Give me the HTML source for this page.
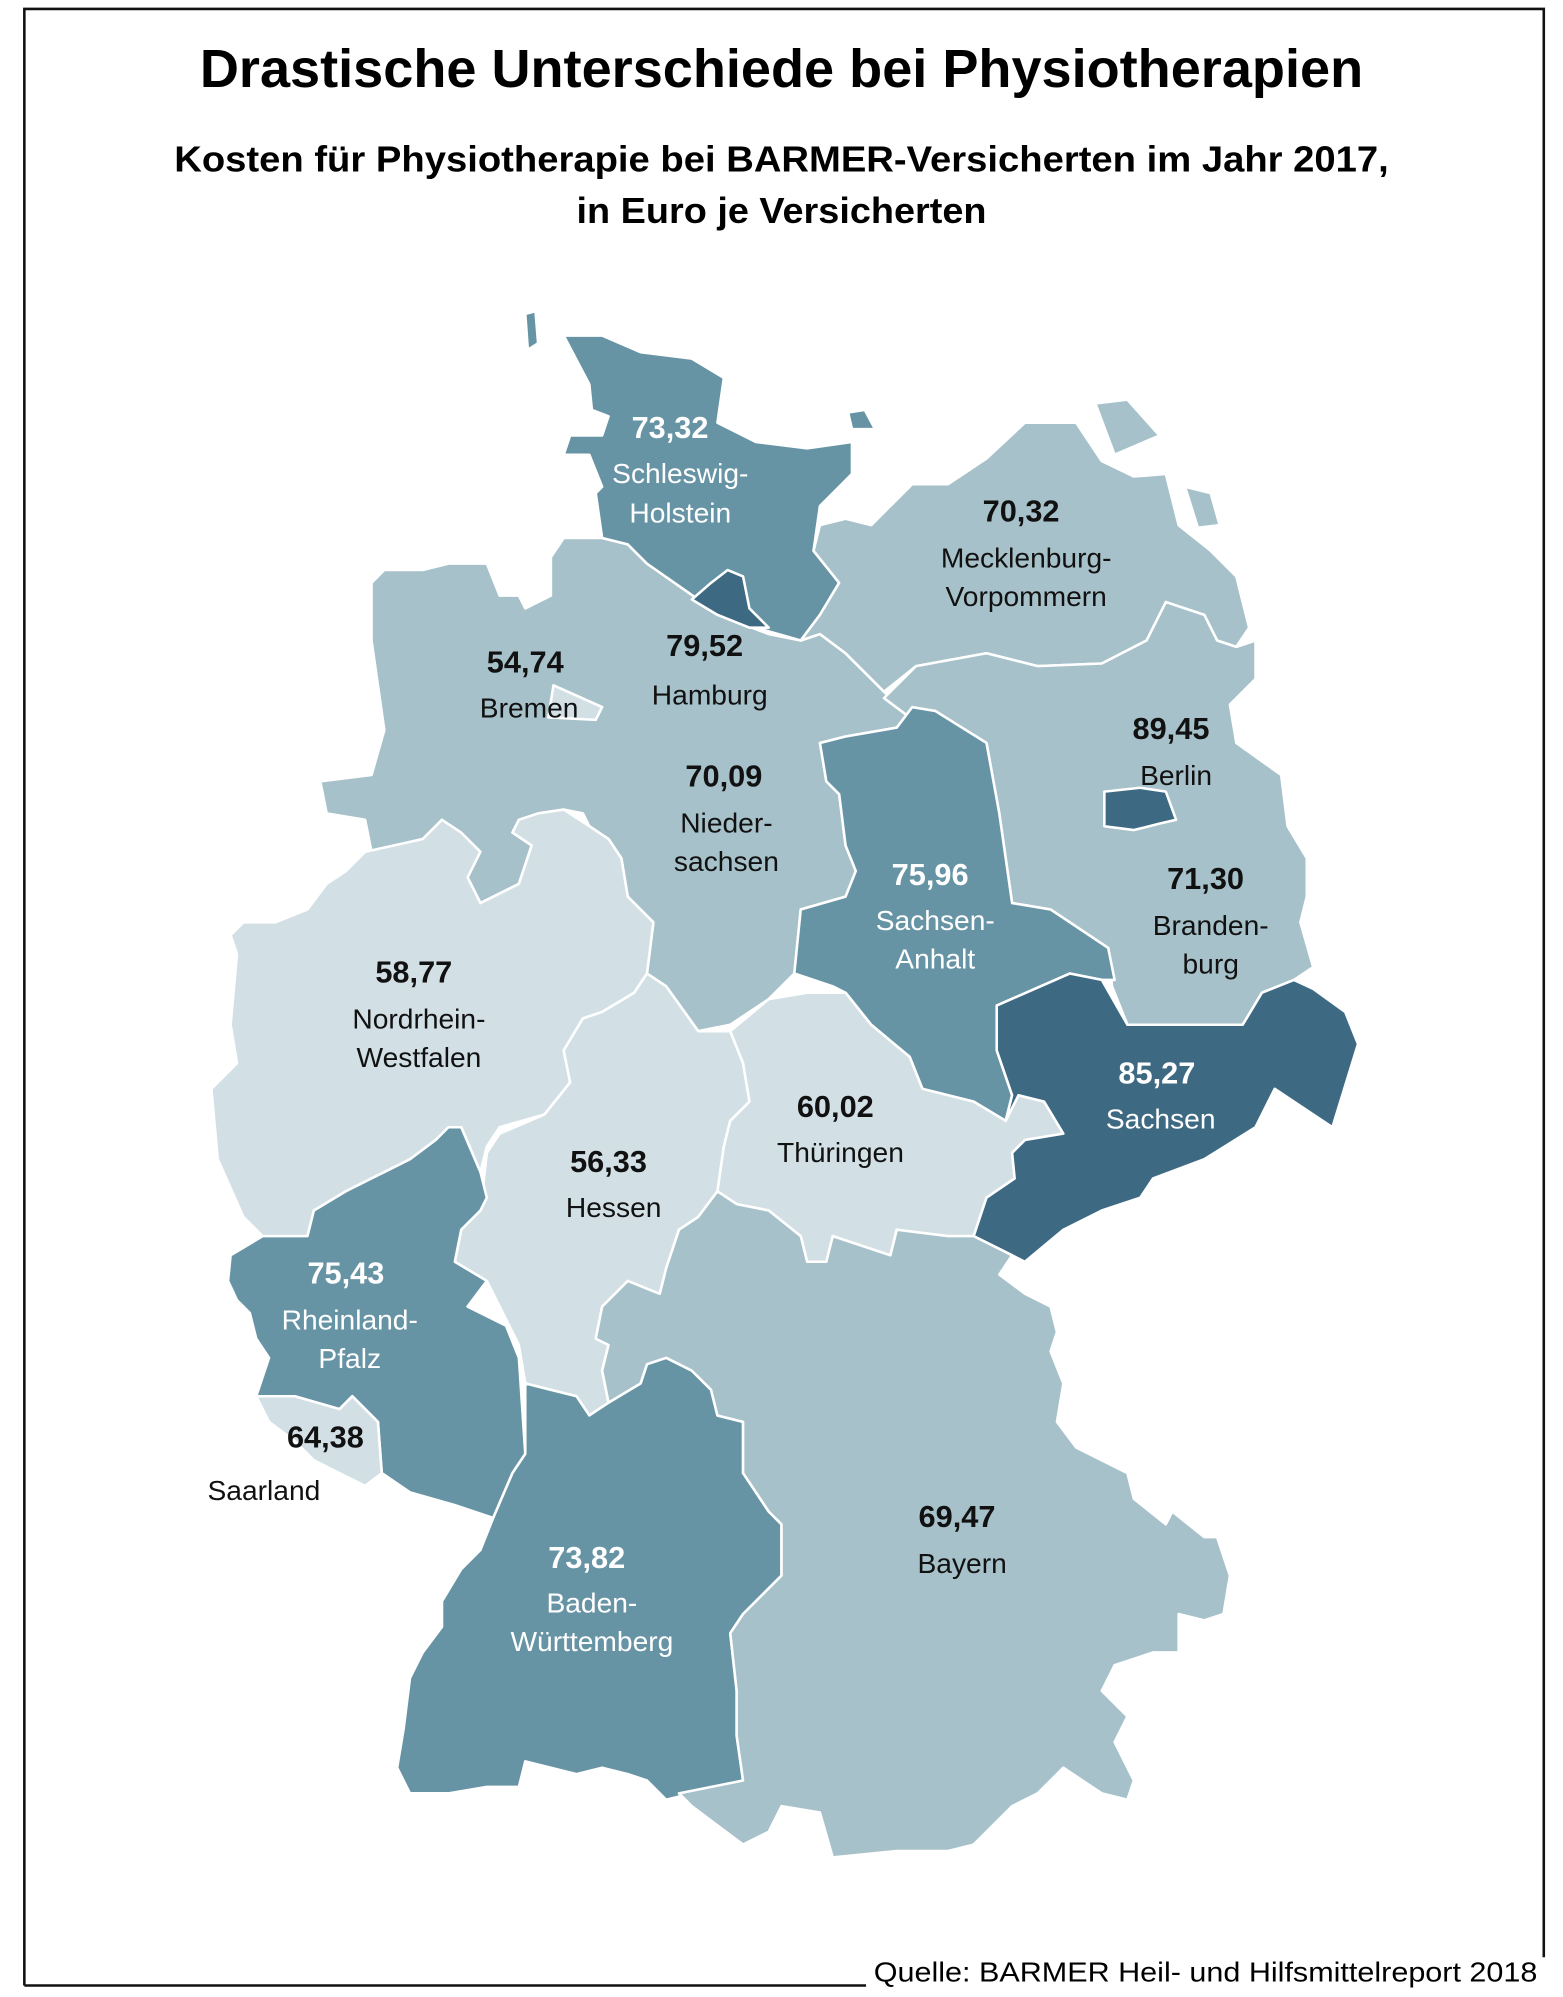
<!DOCTYPE html>
<html><head><meta charset="utf-8"><style>
html,body{margin:0;padding:0;background:#fff}
svg{display:block}
text{font-family:"Liberation Sans",sans-serif}
.n{font-weight:bold;font-size:24px;text-anchor:middle}
.l{font-size:22px;text-anchor:middle}
.w{fill:#fff}.b{fill:#111}
polygon{stroke:#fff;stroke-width:2;stroke-linejoin:round}
.c1{fill:#d2e0e6}.c2{fill:#a6c1c9}.c3{fill:#6794a5}.c4{fill:#3d6a82}
</style></head><body>
<svg width="1563" height="1997" viewBox="0 0 1220 1559" preserveAspectRatio="none">
<rect width="1220" height="1559" fill="#fff"/>
<polyline points="19,1550 19,7 1205,7 1205,1528" fill="none" stroke="#111" stroke-width="2"/>
<line x1="19" y1="1550" x2="676" y2="1550" stroke="#111" stroke-width="2"/>
<text x="610" y="68" text-anchor="middle" font-size="42" font-weight="bold" textLength="908" lengthAdjust="spacingAndGlyphs">Drastische Unterschiede bei Physiotherapien</text>
<text x="610" y="134" text-anchor="middle" font-size="28" font-weight="bold" textLength="948" lengthAdjust="spacingAndGlyphs">Kosten für Physiotherapie bei BARMER-Versicherten im Jahr 2017,</text>
<text x="610" y="174" text-anchor="middle" font-size="28" font-weight="bold" textLength="320" lengthAdjust="spacingAndGlyphs">in Euro je Versicherten</text>
<text x="1200" y="1547" text-anchor="end" font-size="22" textLength="518" lengthAdjust="spacingAndGlyphs">Quelle: BARMER Heil- und Hilfsmittelreport 2018</text>

<polygon class="c2" points="290,455 300,445 330,445 350,440 380,440 390,465 405,465 410,475 430,465 430,435 440,420 470,420 490,425 505,440 545,468 560,480 600,495 625,500 640,495 660,510 690,540 710,560 700,568 660,575 640,580 645,610 655,620 660,660 668,680 660,700 625,710 620,760 600,780 570,800 545,805 520,770 505,760 510,720 490,700 485,670 475,655 460,645 455,635 440,632 420,635 405,640 400,650 415,660 405,690 385,700 375,705 365,685 360,670 350,660 345,640 330,655 310,660 290,665 285,640 255,635 250,610 290,605 300,570 290,500 290,490"/>
<polygon class="c1" points="432,535 470,552 465,562 428,560"/>
<polygon class="c3" points="440,262 470,262 500,275 540,280 565,295 560,330 590,345 630,350 665,345 665,370 640,395 635,430 655,455 640,480 625,500 590,490 545,468 505,440 490,425 470,420 465,385 470,380 460,355 440,355 445,340 470,340 475,325 462,320 460,300"/>
<polygon class="c3" points="410,245 418,243 420,268 412,273"/>
<polygon class="c3" points="662,322 675,320 683,335 665,335"/>
<polygon class="c4" points="540,468 555,455 568,445 580,450 585,475 600,490 585,490 560,480"/>
<polygon class="c2" points="640,410 660,405 680,410 712,378 740,378 770,358 800,330 840,330 860,360 885,372 910,370 920,410 945,430 965,450 975,490 965,505 950,500 940,480 910,470 895,500 860,518 810,520 770,510 715,520 690,540 660,510 640,495 625,500 640,480 655,455 635,430"/>
<polygon class="c2" points="855,315 880,312 905,340 870,355"/>
<polygon class="c2" points="925,380 945,385 952,410 935,412"/>
<polygon class="c2" points="690,545 715,520 770,510 810,520 860,518 895,500 910,470 940,480 950,500 965,505 980,500 980,530 960,550 965,580 1000,605 1005,645 1020,670 1020,700 1015,720 1025,755 1010,765 985,775 970,800 940,800 880,800 868,770 865,740 820,710 790,705 780,635 770,580 730,555 710,560"/>
<polygon class="c4" points="862,618 890,615 910,618 918,640 905,643 885,648 862,645"/>
<polygon class="c3" points="640,580 660,575 700,568 712,552 730,555 770,580 780,635 790,705 820,710 865,740 870,765 860,765 835,760 778,785 778,820 790,855 785,875 760,860 720,850 710,825 680,800 660,775 650,770 620,760 625,710 660,700 668,680 660,660 655,620 645,610"/>
<polygon class="c1" points="285,665 330,655 345,640 360,650 375,665 365,685 375,705 405,690 415,660 400,650 405,640 420,635 440,632 460,645 475,655 485,670 490,700 510,720 505,760 495,775 470,790 455,795 440,820 445,845 425,870 390,880 380,895 375,915 360,880 340,890 320,905 300,915 270,930 245,945 240,965 205,965 190,950 170,905 165,850 185,830 180,800 185,745 180,730 190,720 215,720 240,710 255,690 270,680"/>
<polygon class="c1" points="505,760 520,770 545,805 570,805 580,830 585,860 570,875 565,895 560,930 545,950 530,960 520,990 515,1010 500,1010 490,1000 470,1020 465,1045 475,1050 470,1070 475,1095 460,1105 450,1090 430,1085 410,1080 405,1050 390,1020 380,1000 355,985 360,960 375,945 380,900 390,885 425,870 445,845 440,820 455,795 470,790 495,775"/>
<polygon class="c1" points="570,805 600,780 630,775 660,775 680,800 710,825 720,850 760,860 785,875 795,855 815,860 830,885 800,890 790,900 792,920 770,935 760,965 740,965 700,960 695,980 680,975 650,965 645,985 630,985 625,965 600,945 575,940 560,930 565,895 570,875 585,860 580,830"/>
<polygon class="c4" points="778,785 835,760 860,765 880,800 940,800 970,800 985,775 1010,765 1025,772 1050,790 1060,815 1040,880 1025,870 995,850 980,880 940,905 900,920 890,935 860,945 830,960 800,985 790,980 760,965 770,935 792,920 790,900 800,890 830,885 815,860 795,855 785,875 790,855 778,820"/>
<polygon class="c3" points="180,980 205,965 240,965 245,945 270,930 300,915 320,905 340,890 350,880 360,880 375,915 380,935 375,945 360,960 355,985 380,1000 365,1020 375,1025 395,1035 405,1060 410,1135 400,1150 385,1185 355,1175 320,1165 298,1150 295,1110 275,1090 265,1100 230,1090 200,1090 210,1060 200,1045 195,1025 185,1015 178,1000"/>
<polygon class="c1" points="200,1090 230,1090 265,1100 275,1090 295,1110 298,1150 285,1160 265,1150 245,1140 230,1125 210,1110"/>
<polygon class="c3" points="410,1135 410,1080 430,1085 450,1090 460,1105 475,1095 500,1080 505,1065 520,1060 540,1070 555,1085 560,1105 580,1110 580,1150 600,1180 610,1190 610,1230 580,1260 570,1275 575,1320 575,1355 580,1390 540,1400 520,1405 505,1390 490,1385 470,1380 450,1385 430,1380 410,1375 405,1395 380,1395 350,1400 320,1400 310,1380 315,1350 320,1310 330,1290 345,1270 345,1250 360,1225 375,1210 385,1185 400,1150"/>
<polygon class="c2" points="470,1020 490,1000 515,1010 520,990 530,960 545,950 560,930 575,940 600,945 625,965 630,985 645,985 650,965 680,975 695,980 700,960 740,965 760,965 790,980 780,995 800,1010 820,1020 825,1040 820,1055 830,1080 825,1110 840,1130 880,1150 885,1170 910,1190 915,1180 940,1200 950,1200 955,1215 960,1230 955,1260 940,1265 920,1260 920,1290 900,1290 870,1300 860,1320 880,1340 870,1360 885,1390 880,1405 860,1400 830,1380 810,1400 790,1410 760,1440 740,1445 700,1445 650,1450 640,1415 610,1410 600,1430 580,1440 560,1425 540,1410 530,1400 580,1390 575,1355 575,1320 570,1275 580,1260 610,1230 610,1190 600,1180 580,1150 580,1110 560,1105 555,1085 540,1070 520,1060 505,1065 500,1080 475,1095 470,1070 475,1050 465,1045"/>

<text class="n w" x="523" y="342">73,32</text>
<text class="l w" x="531" y="377">Schleswig-</text>
<text class="l w" x="531" y="408">Holstein</text>
<text class="n b" x="797" y="407">70,32</text>
<text class="l b" x="801" y="443">Mecklenburg-</text>
<text class="l b" x="801" y="473">Vorpommern</text>
<text class="n b" x="410" y="525">54,74</text>
<text class="l b" x="413" y="560">Bremen</text>
<text class="n b" x="550" y="512">79,52</text>
<text class="l b" x="554" y="550">Hamburg</text>
<text class="n b" x="914" y="577">89,45</text>
<text class="l b" x="918" y="613">Berlin</text>
<text class="n b" x="565" y="614">70,09</text>
<text class="l b" x="567" y="650">Nieder-</text>
<text class="l b" x="567" y="680">sachsen</text>
<text class="n w" x="726" y="691">75,96</text>
<text class="l w" x="730" y="726">Sachsen-</text>
<text class="l w" x="730" y="756">Anhalt</text>
<text class="n b" x="941" y="694">71,30</text>
<text class="l b" x="945" y="730">Branden-</text>
<text class="l b" x="945" y="760">burg</text>
<text class="n b" x="323" y="767">58,77</text>
<text class="l b" x="327" y="803">Nordrhein-</text>
<text class="l b" x="327" y="833">Westfalen</text>
<text class="n w" x="903" y="846">85,27</text>
<text class="l w" x="906" y="881">Sachsen</text>
<text class="n b" x="652" y="872">60,02</text>
<text class="l b" x="656" y="907">Thüringen</text>
<text class="n b" x="475" y="915">56,33</text>
<text class="l b" x="479" y="950">Hessen</text>
<text class="n w" x="270" y="1002">75,43</text>
<text class="l w" x="273" y="1038">Rheinland-</text>
<text class="l w" x="273" y="1068">Pfalz</text>
<text class="n b" x="254" y="1130">64,38</text>
<text class="l b" x="206" y="1171">Saarland</text>
<text class="n b" x="747" y="1192">69,47</text>
<text class="l b" x="751" y="1228">Bayern</text>
<text class="n w" x="458" y="1224">73,82</text>
<text class="l w" x="462" y="1259">Baden-</text>
<text class="l w" x="462" y="1289">Württemberg</text>
</svg>
</body></html>
